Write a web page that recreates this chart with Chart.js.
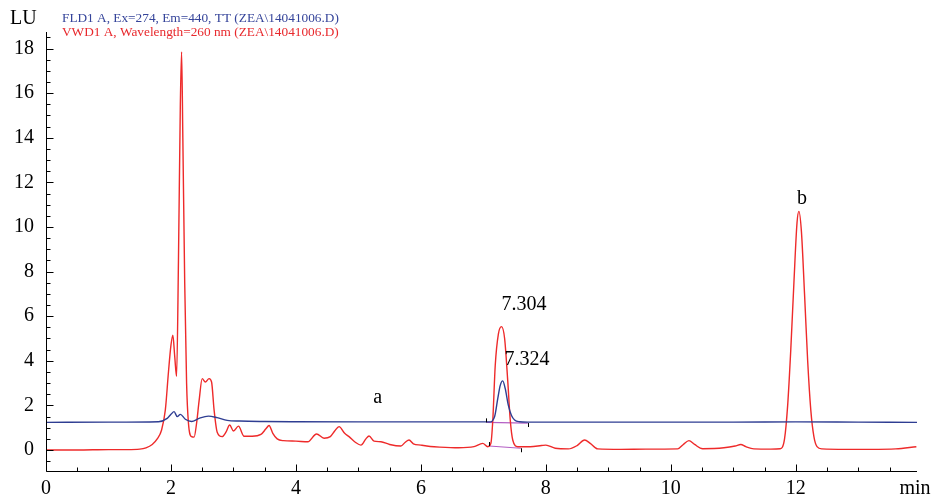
<!DOCTYPE html>
<html><head><meta charset="utf-8">
<script src="https://cdn.jsdelivr.net/npm/chart.js@4/dist/chart.umd.min.js"></script>
<style>html,body{margin:0;padding:0;background:#fff}#wrap{width:933px;height:500px;position:relative}</style>
</head><body><div id="wrap"><canvas id="c" width="933" height="500"></canvas></div>
<script>
// ---- data (time in min, signal in LU) ----
const redTime = [0,0.5,1.0,1.3,1.5,1.6,1.7,1.78,1.85,1.91,1.96,2.0,2.03,2.06,2.09,2.12,2.15,2.17,2.19,2.22,2.25,2.28,2.33,2.37,2.41,2.45,2.5,2.55,2.61,2.65,2.69,2.74,2.82,2.88,2.94,3.0,3.08,3.17,3.3,3.44,3.52,3.57,3.63,3.7,3.8,4.0,4.19,4.33,4.45,4.55,4.62,4.69,4.78,4.85,4.95,5.04,5.12,5.17,5.25,5.36,5.5,5.68,5.75,5.81,5.88,6.0,6.15,6.3,6.6,6.85,6.99,7.07,7.12,7.15,7.19,7.24,7.29,7.34,7.39,7.43,7.47,7.55,7.75,7.93,8.0,8.15,8.36,8.5,8.62,8.71,8.83,9.2,9.6,10.11,10.2,10.29,10.38,10.51,10.85,11.03,11.12,11.2,11.33,11.6,11.75,11.82,11.87,11.92,11.97,12.02,12.05,12.09,12.14,12.19,12.24,12.29,12.34,12.42,12.8,13.2,13.6,13.93];
const redSignal = [0.0,0.0,0.02,0.02,0.04,0.1,0.25,0.5,0.9,1.8,3.5,4.7,5.15,4.2,3.3,8.5,15.5,17.85,14.0,7.5,3.0,1.2,0.6,0.58,1.2,2.2,3.2,3.05,3.2,3.05,1.8,0.8,0.6,0.8,1.12,0.85,1.07,0.62,0.62,0.7,0.95,1.1,0.75,0.5,0.42,0.4,0.37,0.72,0.53,0.6,0.85,1.05,0.75,0.6,0.35,0.22,0.5,0.63,0.4,0.37,0.25,0.18,0.35,0.45,0.28,0.22,0.16,0.13,0.1,0.15,0.3,0.15,0.3,1.3,3.8,5.2,5.53,5.0,3.1,1.35,0.45,0.15,0.15,0.2,0.22,0.08,0.05,0.2,0.45,0.3,0.05,0.03,0.04,0.05,0.25,0.42,0.25,0.06,0.1,0.18,0.25,0.15,0.05,0.04,0.06,0.5,2.0,4.5,7.5,10.2,10.7,9.8,7.0,4.0,1.8,0.6,0.15,0.05,0.03,0.03,0.05,0.15];
const blueTime = [0,1.0,1.8,1.94,2.0,2.05,2.1,2.15,2.23,2.33,2.45,2.6,2.74,2.9,3.1,3.5,4.0,5.0,6.0,7.0,7.1,7.18,7.23,7.27,7.31,7.35,7.4,7.45,7.5,7.58,7.7,9.0,11.0,12.0,13.0,13.94];
const blueSignal = [1.24,1.25,1.27,1.42,1.6,1.72,1.5,1.6,1.38,1.28,1.42,1.52,1.45,1.33,1.3,1.28,1.27,1.26,1.26,1.26,1.26,1.5,2.3,2.9,3.1,2.75,2.0,1.55,1.35,1.27,1.25,1.25,1.25,1.26,1.25,1.24];
// integration baselines under the 7.3 min peaks
const blueBaseTime = [7.05,7.71];
const blueBaseSignal = [1.24,1.21];
const redBaseTime = [7.09,7.6];
const redBaseSignal = [0.18,0.08];
// axis ticks
const xTickValues = [0,2,4,6,8,10,12];
const xTickLabels = ['0','2','4','6','8','10','12'];
const xUnitLabel = 'min';
const yTickValues = [0,2,4,6,8,10,12,14,16,18];
const yTickLabels = ['0','2','4','6','8','10','12','14','16','18'];
const yUnitLabel = 'LU';
// text
const legendLines = ['FLD1 A, Ex=274, Em=440, TT (ZEA\\14041006.D)','VWD1 A, Wavelength=260 nm (ZEA\\14041006.D)'];
const peakLabels = [
  {text:'7.304', t:7.29, v:6.5, align:'left'},
  {text:'7.324', t:7.34, v:4.04, align:'left'},
  {text:'a', t:5.31, v:2.33, align:'center'},
  {text:'b', t:12.1, v:11.25, align:'center'}
];

const RED = '#ee2a2a', BLUE = '#2e3d92', PURPLE = '#b45fc4';
const SERIF = '"Liberation Serif","Times New Roman",serif';
const pts = (ts, vs) => ts.map((t, i) => ({x: t, y: vs[i]}));

const axisPlugin = {
  id: 'axisPlugin',
  afterDraw(chart) {
    const {ctx, chartArea: a, scales: {x, y}} = chart;
    ctx.save();
    ctx.strokeStyle = '#000';
    ctx.lineWidth = 1;
    ctx.beginPath();
    const L = Math.round(a.left) + 0.5, B = Math.round(a.bottom) + 0.5;
    ctx.moveTo(L, a.top); ctx.lineTo(L, B); ctx.lineTo(a.right, B);
    for (let k = -1; k <= 37; k++) {
      const v = k * 0.5; const py = Math.round(y.getPixelForValue(v)) + 0.5;
      if (py < a.top || py > a.bottom) continue;
      const len = (k % 4 === 0) ? 7 : 4;
      ctx.moveTo(L, py); ctx.lineTo(L + len, py);
    }
    for (let k = 0; k <= 28; k++) {
      const v = k * 0.5; const px = Math.round(x.getPixelForValue(v)) + 0.5;
      if (px > a.right - 2) continue;
      const len = (k % 4 === 0) ? 7 : 4;
      ctx.moveTo(px, B); ctx.lineTo(px, B - len);
    }
    const tick = (t, v, up) => { const px = Math.round(x.getPixelForValue(t)) + 0.5; const py = y.getPixelForValue(v); ctx.moveTo(px, py); ctx.lineTo(px, py + (up ? -4 : 4)); };
    tick(blueBaseTime[0], blueBaseSignal[0], true); tick(blueBaseTime[1], blueBaseSignal[1], false);
    tick(redBaseTime[0], redBaseSignal[0], true); tick(redBaseTime[1], redBaseSignal[1], false);
    ctx.stroke();
    ctx.fillStyle = '#000';
    ctx.font = '20px ' + SERIF;
    ctx.textBaseline = 'middle';
    ctx.textAlign = 'left';
    ctx.fillText(yUnitLabel, 10, 19);
    ctx.textAlign = 'center';
    ctx.fillText(xUnitLabel, 915, 489);
    peakLabels.forEach(p => {
      ctx.textAlign = p.align;
      ctx.fillText(p.text, x.getPixelForValue(p.t), y.getPixelForValue(p.v));
    });
    ctx.font = '13.3px ' + SERIF;
    ctx.textAlign = 'left';
    ctx.fillStyle = '#35449a'; ctx.fillText(legendLines[0], 62, 19);
    ctx.fillStyle = '#e8282c'; ctx.fillText(legendLines[1], 62, 33);
    ctx.restore();
  }
};

new Chart(document.getElementById('c'), {
  type: 'line',
  data: {
    datasets: [
      {data: pts(blueTime, blueSignal), borderColor: BLUE, borderWidth: 1.4, pointRadius: 0, cubicInterpolationMode: 'monotone', fill: false},
      {data: pts(redTime, redSignal), borderColor: RED, borderWidth: 1.4, pointRadius: 0, cubicInterpolationMode: 'monotone', fill: false},
      {data: pts(blueBaseTime, blueBaseSignal), borderColor: PURPLE, borderWidth: 1.2, pointRadius: 0},
      {data: pts(redBaseTime, redBaseSignal), borderColor: PURPLE, borderWidth: 1.2, pointRadius: 0}
    ]
  },
  options: {
    responsive: false, animation: false, devicePixelRatio: 1,
    layout: {padding: {top: 32, right: 16, left: 0, bottom: 0}},
    plugins: {legend: {display: false}, tooltip: {enabled: false}},
    scales: {
      x: {
        type: 'linear', min: 0, max: 13.94,
        grid: {display: false, drawTicks: false}, border: {display: false},
        afterBuildTicks: s => { s.ticks = xTickValues.map(v => ({value: v})); },
        afterFit: s => { s.height = 29; },
        ticks: {padding: 6, color: '#000', font: {family: SERIF, size: 20}, maxRotation: 0, autoSkip: false,
          callback: (v) => xTickLabels[xTickValues.indexOf(v)]}
      },
      y: {
        type: 'linear', min: -0.94, max: 18.74,
        grid: {display: false, drawTicks: false}, border: {display: false},
        afterBuildTicks: s => { s.ticks = yTickValues.map(v => ({value: v})); },
        afterFit: s => { s.width = 46; },
        ticks: {padding: 12, color: '#000', font: {family: SERIF, size: 20}, autoSkip: false,
          callback: (v) => yTickLabels[yTickValues.indexOf(v)]}
      }
    }
  },
  plugins: [axisPlugin]
});
</script></body></html>
